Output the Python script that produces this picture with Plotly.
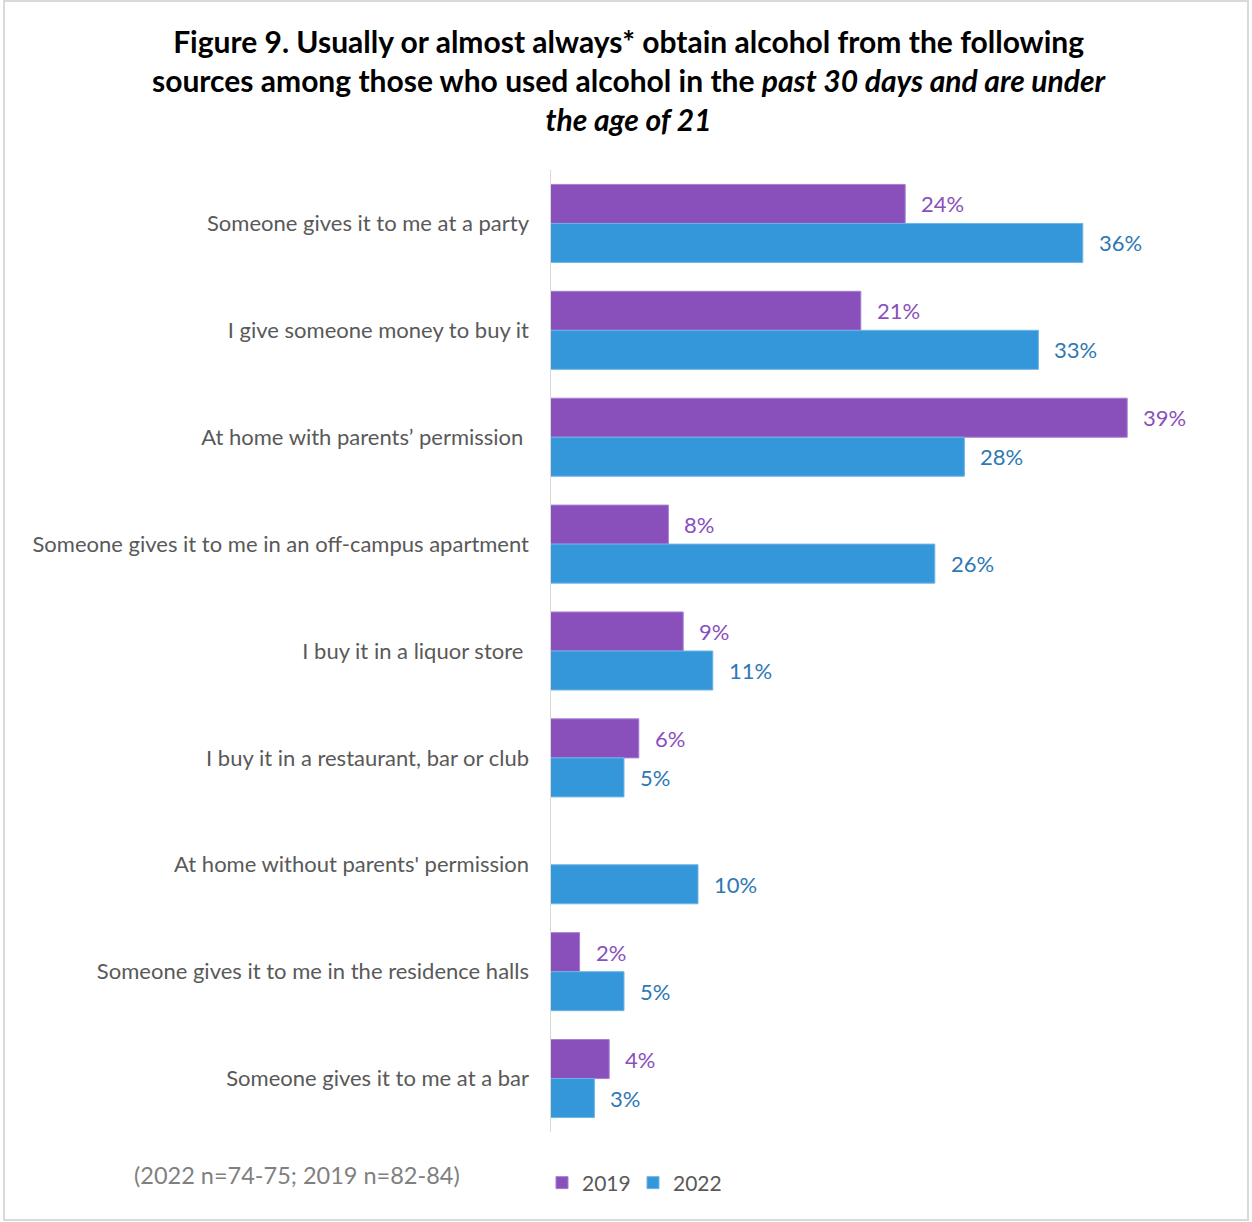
import plotly.graph_objects as go

# Sources of alcohol (top to bottom)
sources = [
    "Someone gives it to me at a party",
    "I give someone money to buy it",
    "At home with parents\u2019 permission\u00a0",
    "Someone gives it to me in an off-campus apartment",
    "I buy it in a liquor store\u00a0",
    "I buy it in a restaurant, bar or club",
    "At home without parents' permission",
    "Someone gives it to me in the residence halls",
    "Someone gives it to me at a bar",
]
pct_2019 = [24, 21, 39, 8, 9, 6, None, 2, 4]
pct_2022 = [36, 33, 28, 26, 11, 5, 10, 5, 3]

PURPLE = "#8950BB"
BLUE = "#3497D9"
PURPLE_TXT = "#8A4FBE"
BLUE_TXT = "#2E78B3"
FONT = "Lato, 'Open Sans', sans-serif"

fig = go.Figure()
fig.add_trace(go.Bar(
    y=sources, x=pct_2019, orientation="h", name="2019",
    marker=dict(color=PURPLE, line=dict(color="#A57FD0", width=1)),
))
fig.add_trace(go.Bar(
    y=sources, x=pct_2022, orientation="h", name="2022",
    marker=dict(color=BLUE, line=dict(color="#6FB5E6", width=1)),
))

# Value labels just past the end of each bar
for vals, shift, col in ((pct_2019, 19.5, PURPLE_TXT), (pct_2022, -19.5, BLUE_TXT)):
    for cat, v in zip(sources, vals):
        if v is None:
            continue
        fig.add_annotation(
            x=v, y=cat, xref="x", yref="y", text=f"{v}%",
            showarrow=False, xanchor="left", yanchor="middle",
            xshift=14, yshift=shift,
            font=dict(family=FONT, size=22, color=col),
        )

# Title
fig.add_annotation(
    xref="paper", yref="paper", x=0.119, y=1.0936,
    text=("<b>Figure 9. Usually or almost always* obtain alcohol from the following<br>"
          "sources among those who used alcohol in the <i>past 30 days and are under<br>"
          "the age of 21</i></b>"),
    showarrow=False, xanchor="center", yanchor="middle", align="center",
    font=dict(family=FONT, size=30, color="#000000"),
)

# Sample size note
fig.add_annotation(
    xref="paper", yref="paper", x=-0.38, y=-0.0447,
    text="(2022 n=74-75; 2019 n=82-84)",
    showarrow=False, xanchor="center", yanchor="middle",
    font=dict(family=FONT, size=23.5, color="#808080"),
)

# Outer frame
fig.add_shape(
    type="rect", xref="paper", yref="paper",
    x0=(4 - 550) / 666, x1=(1248 - 550) / 666,
    y0=(1132 - 1220) / 962, y1=(1132 - 1) / 962,
    line=dict(color="#D9D9D9", width=2), fillcolor="rgba(0,0,0,0)", layer="below",
)

fig.update_layout(
    width=1252, height=1222,
    margin=dict(l=550, r=36, t=170, b=90),
    paper_bgcolor="white", plot_bgcolor="white",
    barmode="group", bargap=0.27, bargroupgap=0,
    font=dict(family=FONT, size=22, color="#595959"),
    showlegend=True,
    legend=dict(
        orientation="h", x=-0.012, y=-0.053, xanchor="left", yanchor="middle",
        font=dict(family=FONT, size=21, color="#595959"),
        itemwidth=30, tracegroupgap=0, traceorder="normal",
        entrywidth=46, entrywidthmode="pixels",
    ),
    xaxis=dict(range=[0, 45], visible=False, fixedrange=True),
    yaxis=dict(
        autorange="reversed", showgrid=False, zeroline=False,
        showline=False, ticks="", ticklabelstandoff=20,
        tickfont=dict(family=FONT, size=22, color="#595959"),
    ),
)

# Vertical axis line at zero
fig.add_shape(
    type="line", xref="x", yref="paper", x0=0, x1=0, y0=0, y1=1,
    line=dict(color="#D9D9D9", width=2),
)

fig.write_html("out.html")
